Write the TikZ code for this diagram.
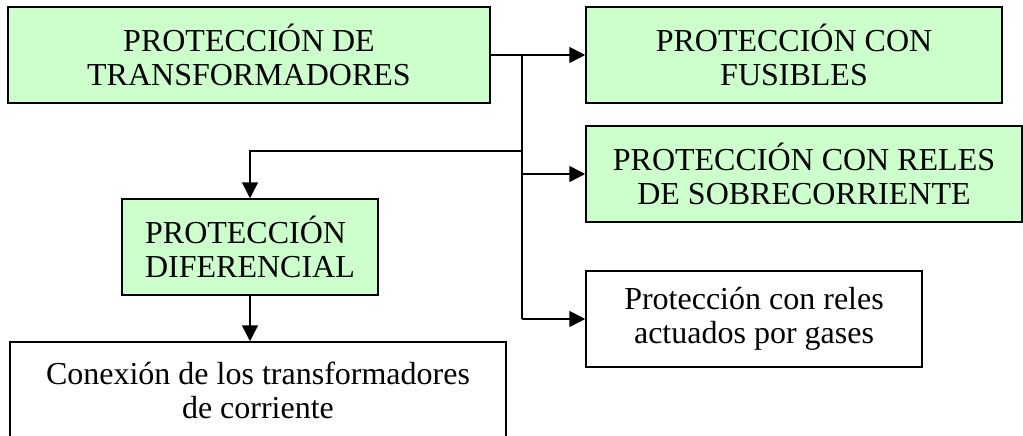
\documentclass[tikz,border=0pt]{standalone}
\usepackage{fontspec}
\setmainfont{Liberation Serif}
\usetikzlibrary{arrows.meta}
\definecolor{verde}{HTML}{CCFFCC}
\begin{document}
\begin{tikzpicture}[x=1pt, y=-1pt,
    caja/.style={draw, line width=1.5pt, minimum height=96pt, inner sep=0pt,
        align=center, font=\fontsize{32}{34}\selectfont},
    flecha/.style={line width=1.5pt, -{Triangle[length=16pt, width=16pt]}}]
    \useasboundingbox (0,0) rectangle (1023,436);
    \clip (0,0) rectangle (1023,436);
    % Boxes
    \node[caja, fill=verde, minimum width=482pt] (trafo) at (249,55) {PROTECCIÓN DE\\TRANSFORMADORES};
    \node[caja, fill=verde, minimum width=416pt] (fusibles) at (794,55) {PROTECCIÓN CON\\FUSIBLES};
    \node[caja, fill=verde, minimum width=436pt] (sobrecorr) at (804,174) {PROTECCIÓN CON RELES\\DE SOBRECORRIENTE};
    \node[caja, minimum width=336pt] (gases) at (754,319) {Protección con reles\\actuados por gases};
    \node[caja, fill=verde, minimum width=256pt, align=left] (difer) at (250,247) {PROTECCIÓN\\DIFERENCIAL};
    \node[caja, minimum width=496pt] (conexion) at (258,390) {Conexión de los transformadores\\de corriente};
    % Branches
    \coordinate (bus) at (522,55);
    \coordinate (desvio) at (522,151);
    \draw[flecha] (trafo.east) -- (fusibles.west);
    \draw[line width=1.5pt] (bus) -- (bus |- gases.west);
    \draw[flecha] (bus |- sobrecorr.west) -- (sobrecorr.west);
    \draw[flecha] (bus |- gases.west) -- (gases.west);
    \draw[flecha] (desvio) -| (difer.north);
    \draw[flecha] (difer.south) -- (difer.south |- conexion.north);
\end{tikzpicture}
\end{document}
